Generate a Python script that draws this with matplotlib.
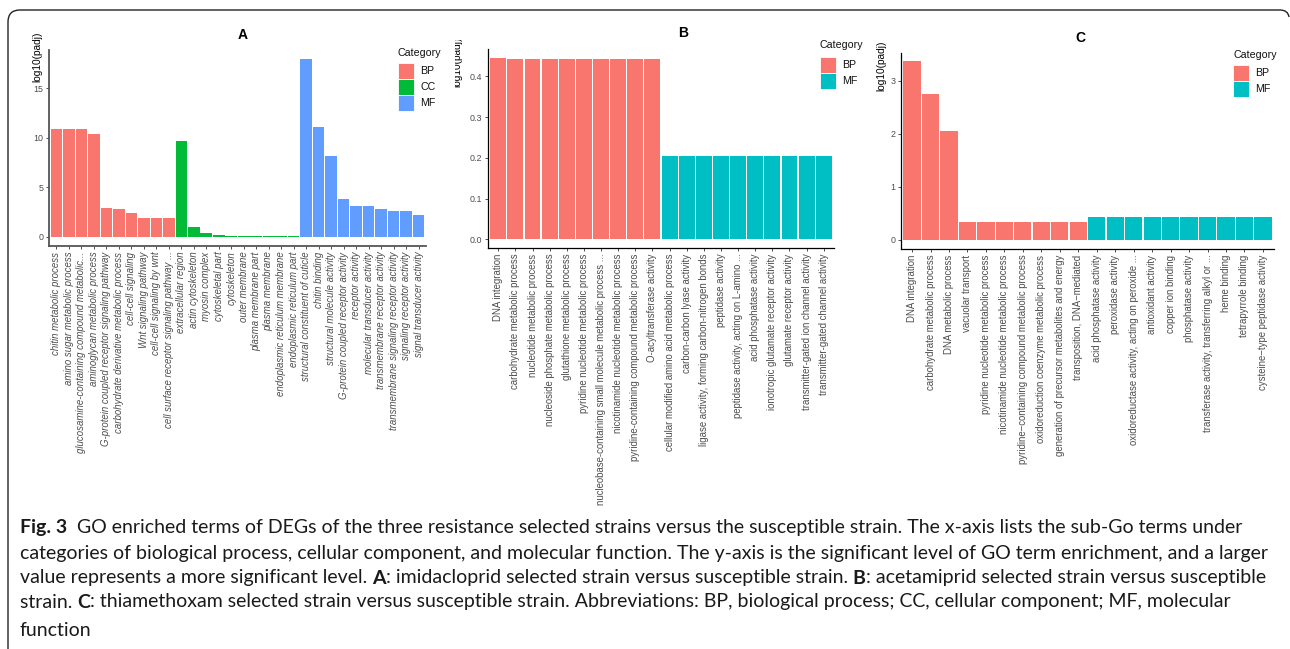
import matplotlib
matplotlib.use("Agg")
import matplotlib.pyplot as plt
from matplotlib.patches import Rectangle, PathPatch
from matplotlib.path import Path
from matplotlib.transforms import Bbox

W, H = 1290, 649

# ---------------- data ----------------
a_terms = ["chitin metabolic process", "amino sugar metabolic process",
           "glucosamine-containing compound metabolic...", "aminoglycan metabolic process",
           "G-protein coupled receptor signaling pathway", "carbohydrate derivative metabolic process",
           "cell-cell signaling", "Wnt signaling pathway", "cell-cell signaling by wnt",
           "cell surface receptor signaling pathway ...",
           "extracellular region", "actin cytoskeleton", "myosin complex", "cytoskeletal part",
           "cytoskeleton", "outer membrane", "plasma membrane part", "plasma membrane",
           "endoplasmic reticulum membrane", "endoplasmic reticulum part",
           "structural constituent of cuticle", "chitin binding", "structural molecule activity",
           "G-protein coupled receptor activity", "receptor activity", "molecular transducer activity",
           "transmembrane receptor activity", "transmembrane signaling receptor activity",
           "signaling receptor activity", "signal transducer activity"]
a_values = [10.9, 10.9, 10.9, 10.4, 2.85, 2.8, 2.4, 1.9, 1.9, 1.9,
            9.7, 0.97, 0.4, 0.17, 0.07, 0.04, 0.04, 0.04, 0.04, 0.04,
            17.9, 11.1, 8.1, 3.8, 3.1, 3.1, 2.8, 2.6, 2.6, 2.2]
a_cats = ["BP"] * 10 + ["CC"] * 10 + ["MF"] * 10

b_terms = ["DNA integration", "carbohydrate metabolic process", "nucleotide metabolic process",
           "nucleoside phosphate metabolic process", "glutathione metabolic process",
           "pyridine nucleotide metabolic process",
           "nucleobase-containing small molecule metabolic process ...",
           "nicotinamide nucleotide metabolic process", "pyridine-containing compound metabolic process",
           "O-acyltransferase activity",
           "cellular modified amino acid metabolic process", "carbon-carbon lyase activity",
           "ligase activity, forming carbon-nitrogen bonds", "peptidase activity",
           "peptidase activity, acting on L-amino ...", "acid phosphatase activity",
           "ionotropic glutamate receptor activity", "glutamate receptor activity",
           "transmitter-gated ion channel activity", "transmitter-gated channel activity"]
b_values = [0.445, 0.442, 0.442, 0.442, 0.442, 0.442, 0.442, 0.442, 0.442, 0.442,
            0.204, 0.204, 0.204, 0.204, 0.204, 0.204, 0.204, 0.204, 0.204, 0.204]
b_cats = ["BP"] * 10 + ["MF"] * 10

c_terms = ["DNA integration", "carbohydrate metabolic process", "DNA metabolic process",
           "vacuolar transport", "pyridine nucleotide metabolic process",
           "nicotinamide nucleotide metabolic process", "pyridine\u2212containing compound metabolic process",
           "oxidoreduction coenzyme metabolic process", "generation of precursor metabolites and energy",
           "transposition, DNA\u2212mediated",
           "acid phosphatase activity", "peroxidase activity",
           "oxidoreductase activity, acting on peroxide ...", "antioxidant activity",
           "copper ion binding", "phosphatase activity",
           "transferase activity, transferring alkyl or ...", "heme binding",
           "tetrapyrrole binding", "cysteine\u2212type peptidase activity"]
c_values = [3.36, 2.75, 2.05, 0.345, 0.345, 0.345, 0.345, 0.345, 0.345, 0.345,
            0.434, 0.434, 0.434, 0.434, 0.434, 0.434, 0.434, 0.434, 0.434, 0.434]
c_cats = ["BP"] * 10 + ["MF"] * 10

colors_a = {"BP": "#F8766D", "CC": "#00BA38", "MF": "#619CFF"}
colors_bc = {"BP": "#F8766D", "MF": "#00BFC4"}

caption_lines = [
    [("Fig. 3", True), ("  GO enriched terms of DEGs of the three resistance selected strains versus the susceptible strain. The x-axis lists the sub-Go terms under", False)],
    [("categories of biological process, cellular component, and molecular function. The y-axis is the significant level of GO term enrichment, and a larger", False)],
    [("value represents a more significant level. ", False), ("A", True),
     (": imidacloprid selected strain versus susceptible strain. ", False), ("B", True),
     (": acetamiprid selected strain versus susceptible", False)],
    [("strain. ", False), ("C", True),
     (": thiamethoxam selected strain versus susceptible strain. Abbreviations: BP, biological process; CC, cellular component; MF, molecular", False)],
    [("function", False)],
]

# ---------------- helpers ----------------
plt.rcParams["font.family"] = ["Liberation Sans", "DejaVu Sans"]
fig = plt.figure(figsize=(W / 100, H / 100), dpi=100)
fig.patch.set_facecolor("white")


def fx(x):
    return x / W


def fy(y):
    return 1 - y / H


def make_axes(l, t, r, b):
    return fig.add_axes([fx(l), fy(b), (r - l) / W, (b - t) / H])


def draw_panel(ax, terms, values, cats, cmap, yticks, yfmt, ylim, italic, spine_color, spine_lw):
    xs = list(range(len(terms)))
    ax.bar(xs, values, width=0.93, color=[cmap[c] for c in cats], linewidth=0)
    ax.set_xlim(-0.6, len(terms) - 0.4)
    ax.set_ylim(*ylim)
    ax.set_xticks(xs)
    ax.set_xticklabels(terms, rotation=90, ha="right", va="center", rotation_mode="anchor",
                       fontsize=6.9, color="#4D4D4D", style="italic" if italic else "normal")
    ax.set_yticks(yticks)
    ax.set_yticklabels([yfmt.format(v) for v in yticks], fontsize=6.4, color="#4D4D4D")
    for s in ["top", "right"]:
        ax.spines[s].set_visible(False)
    for s in ["left", "bottom"]:
        ax.spines[s].set_color(spine_color)
        ax.spines[s].set_linewidth(spine_lw)
    ax.tick_params(axis="both", length=2.5, width=0.6, color="#333333", pad=1.5)
    ax.set_facecolor("white")


def legend(x, ytext, ypatch, cats, cmap, ph=16, pw=16):
    fig.text(fx(x), fy(ytext), "Category", fontsize=7.7, ha="left", va="center", color="#111111")
    for i, c in enumerate(cats):
        y0 = ypatch + i * ph
        fig.patches.append(Rectangle((fx(x), fy(y0 + ph)), pw / W, ph / H, transform=fig.transFigure,
                                     facecolor=cmap[c], edgecolor="white", linewidth=0.6))
        fig.text(fx(x + pw + 6), fy(y0 + ph / 2), c, fontsize=7.7, ha="left", va="center", color="#111111")


# ---------------- panel A ----------------
axA = make_axes(49, 50, 426, 246)
draw_panel(axA, a_terms, a_values, a_cats, colors_a, [0, 5, 10, 15], "{:g}",
           (-0.95, 18.85), True, "#555555", 1.3)
fig.text(fx(243), fy(35), "A", fontsize=10, fontweight="bold", ha="center", va="center")
fig.text(fx(37), fy(57), "log10(padj)", fontsize=7.3, rotation=90, ha="center", va="center")
legend(398, 53, 63, ["BP", "CC", "MF"], colors_a)

# ---------------- panel B ----------------
axB = make_axes(488, 49, 834, 248)
draw_panel(axB, b_terms, b_values, b_cats, colors_bc, [0.0, 0.1, 0.2, 0.3, 0.4], "{:.1f}",
           (-0.021, 0.467), False, "black", 0.9)
fig.text(fx(683), fy(33), "B", fontsize=10, fontweight="bold", ha="center", va="center")
tb = fig.text(fx(457), fy(62), "log10(padj)", fontsize=7.3, rotation=90, ha="center", va="center")
tb.set_clip_box(Bbox.from_extents(455, 0, W, H - 40))
tb.set_clip_on(True)
legend(820, 45, 57, ["BP", "MF"], colors_bc)

# ---------------- panel C ----------------
axC = make_axes(901, 53, 1274, 249)
draw_panel(axC, c_terms, c_values, c_cats, colors_bc, [0, 1, 2, 3], "{:g}",
           (-0.17, 3.52), False, "black", 0.9)
fig.text(fx(1080), fy(38), "C", fontsize=10, fontweight="bold", ha="center", va="center")
fig.text(fx(881), fy(66), "log10(padj)", fontsize=7.3, rotation=90, ha="center", va="center")
legend(1233, 55, 65, ["BP", "MF"], colors_bc)

# ---------------- frame ----------------
verts = [(8, H + 2), (8, 22), (8, 10), (20, 10), (1280, 10), (1288, 10), (1289, 17)]
codes = [Path.MOVETO, Path.LINETO, Path.CURVE3, Path.CURVE3, Path.LINETO, Path.CURVE3, Path.CURVE3]
frame = Path([(fx(x), fy(y)) for x, y in verts], codes)
fig.patches.append(PathPatch(frame, transform=fig.transFigure, facecolor="none",
                             edgecolor="#222222", linewidth=1.0))

# ---------------- caption ----------------
cap_family = ["Lato", "DejaVu Sans"]
renderer = fig.canvas.get_renderer()
# fit the font size so the longest line spans the same width as the reference
probe = fig.text(0, 0, caption_lines[1][0][0], fontsize=12, family=cap_family)
w12 = probe.get_window_extent(renderer).width
probe.remove()
cap_size = 12 * 1244 / w12
line_y = [528, 553, 578, 602, 630]
for segs, yy in zip(caption_lines, line_y):
    x = 20
    for txt, bold in segs:
        t = fig.text(fx(x), fy(yy), txt, fontsize=cap_size, family=cap_family,
                     fontweight="bold" if bold else "normal", ha="left", va="center", color="#1a1a1a")
        x += t.get_window_extent(renderer).width

fig.savefig("out.png", dpi=100, facecolor="white")
